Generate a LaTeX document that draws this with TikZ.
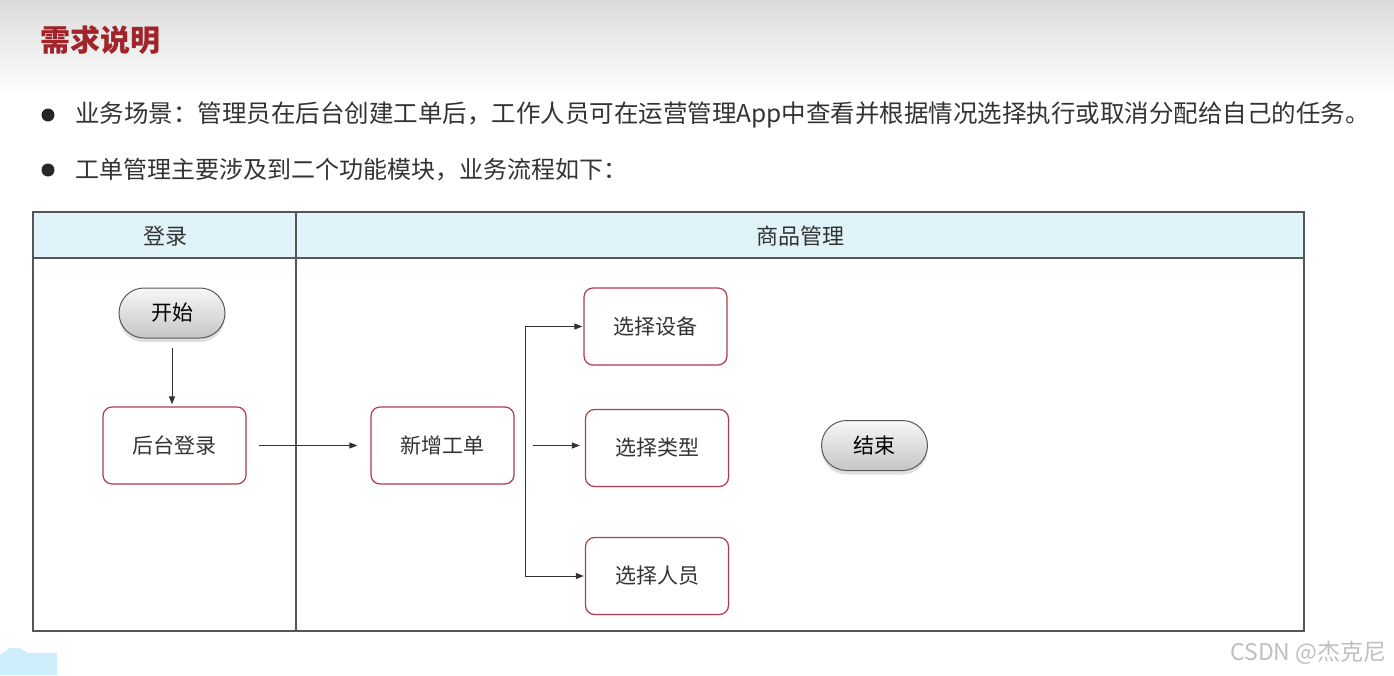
\documentclass[tikz,border=0pt]{standalone}
\usepackage{fontspec}
\setmainfont{Noto Sans CJK SC}
\usetikzlibrary{arrows.meta,shadows}

\definecolor{titlered}{RGB}{160,36,42}
\definecolor{boxred}{RGB}{178,58,74}
\definecolor{headblue}{RGB}{224,243,251}
\definecolor{blobblue}{RGB}{205,238,250}
\definecolor{textgray}{RGB}{51,51,51}
\definecolor{linegray}{RGB}{85,85,85}

\begin{document}
\begin{tikzpicture}[
  x=1pt, y=-1pt,
  heading/.style  = {font=\bfseries\fontsize{30}{36}\selectfont, text=titlered,
                     anchor=west, inner sep=0pt},
  bullet/.style   = {circle, fill=black!85, inner sep=0pt, minimum size=13pt},
  para/.style     = {font=\fontsize{24}{28}\selectfont, text=textgray,
                     anchor=west, inner sep=0pt},
  lane/.style     = {draw=linegray, line width=1.2pt},
  lanehead/.style = {font=\fontsize{22}{26}\selectfont, text=textgray},
  task/.style     = {draw=boxred, line width=1.2pt, rounded corners=9pt, fill=white,
                     minimum width=143pt, minimum height=77pt,
                     font=\fontsize{21}{25}\selectfont, text=textgray},
  terminal/.style = {draw=black!65, line width=1pt, rounded corners=25pt,
                     minimum width=106pt, minimum height=50pt,
                     top color=gray!6, bottom color=gray!45,
                     drop shadow={shadow xshift=0pt, shadow yshift=-4pt, opacity=0.25},
                     font=\fontsize{21}{25}\selectfont},
  flow/.style     = {draw=black!80, line width=0.9pt, -{Triangle[length=8pt,width=6pt]}},
  watermark/.style= {font=\fontsize{23}{27}\selectfont, text=black!25, anchor=east},
]
  \useasboundingbox (0,0) rectangle (1394,675);

  % slide header band
  \shade[top color=black!14, bottom color=white] (0,0) rectangle (1394,95);
  \node[heading] (title) at (40,40) {需求说明};

  \node[bullet] (dot1) at (48,115) {};
  \node[para, font=\fontsize{24.5}{28}\selectfont] (scene) at (75,115) {业务场景：管理员在后台创建工单后，工作人员可在运营管理App中查看并根据情况选择执行或取消分配给自己的任务。};
  \node[bullet] (dot2) at (48,170) {};
  \node[para] (modules) at (75,170) {工单管理主要涉及到二个功能模块，业务流程如下：};

  % swimlanes
  \draw[lane, fill=headblue] (33,212) rectangle (1304,258);
  \draw[lane] (33,212) rectangle (1304,631);
  \draw[lane] (296,212) -- (296,631);
  \node[lanehead] (login lane) at (165,236) {登录};
  \node[lanehead] (goods lane) at (800,236) {商品管理};

  \node[terminal] (start) at (172,313) {开始};
  \node[task] (backend) at (174.5,445.5) {后台登录};
  \node[task] (neworder) at (442.5,445.5) {新增工单};
  \node[task] (device) at (655.5,326.5) {选择设备};
  \node[task] (type) at (657,448) {选择类型};
  \node[task] (staff) at (657,576) {选择人员};
  \node[terminal] (finish) at (874.5,445.5) {结束};

  \draw[flow, shorten <=9pt, shorten >=2pt] (start) -- (start |- backend.north);
  \draw[flow, shorten <=12pt, shorten >=13pt] (backend) -- (neworder);
  \draw[flow, shorten <=18pt, shorten >=5pt] (neworder.east) -- (neworder.east -| type.west);

  % the fork stands apart from its source
  \coordinate (fork) at (525,450);
  \draw[flow, shorten >=1pt] (fork) |- (device);
  \draw[flow, shorten >=1pt] (fork) |- (staff);

  % corner marks of the screenshot
  \fill[blobblue] (0,675) -- (0,655) -- (10,648) -- (20,648) -- (28,653)
    -- (57,653) -- (57,675) -- cycle;
  \node[watermark] (csdn) at (1390,653) {CSDN @杰克尼};
\end{tikzpicture}
\end{document}
